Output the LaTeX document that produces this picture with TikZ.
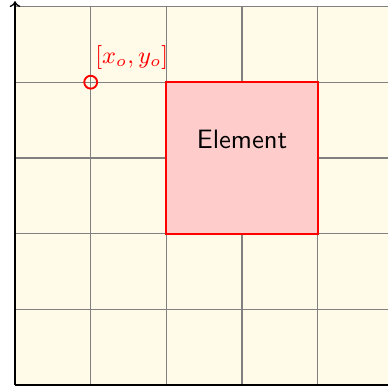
\documentclass[tikz,border=0pt]{standalone}
\usetikzlibrary{arrows.meta}
\definecolor{bgcream}{RGB}{255,251,232}
\begin{document}
\begin{tikzpicture}[
  gridline/.style={gray,line width=0.5pt},
  axisline/.style={black,line width=0.5pt},
  elembox/.style={draw=red,fill=red!20,line width=0.8pt,minimum width=2cm,minimum height=2cm,inner sep=0pt},
  originmark/.style={circle,draw=red,line width=0.7pt,minimum size=0.17cm,inner sep=0pt}
]
\useasboundingbox (-0.198,-0.04) rectangle (4.927,5.086);
\fill[bgcream] (0,0) rectangle (4.927,5);
\draw[gridline] (0,0) grid (4.927,5);
\draw[gridline] (0,5) -- (4.927,5);
\node[elembox] (elem) at (3,3) {};
\node[font=\sffamily] (elabel) at (3,3.24) {Element};
\node[originmark] (orig) at (1,4) {};
\node[red,anchor=south west,inner sep=1pt,font=\small] (olabel) at (1.02,4.125) {$[x_o,y_o]$};
\coordinate (o) at (0,0);
\coordinate (ytop) at (0,5.07);
\coordinate (xend) at (4.927,0);
\draw[axisline,-{To[length=2.2pt,width=4pt]}] (o) -- (ytop);
\draw[axisline] (o) -- (xend);
\end{tikzpicture}
\end{document}
